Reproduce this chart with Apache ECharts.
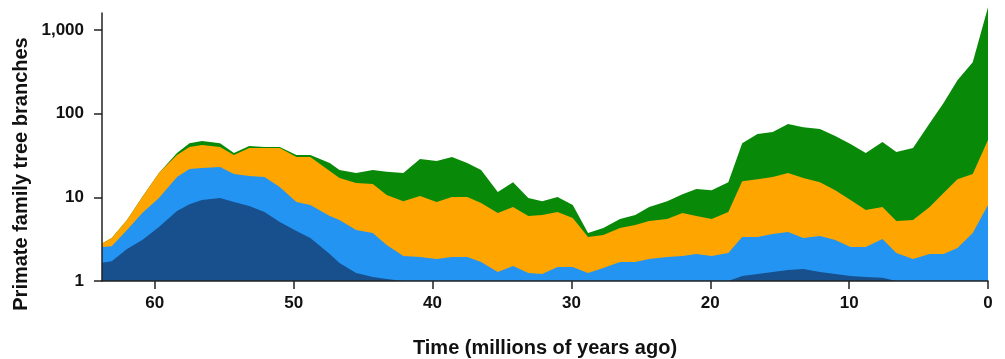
<!DOCTYPE html>
<html>
<head>
<meta charset="utf-8">
<script src="https://cdn.jsdelivr.net/npm/echarts@6/dist/echarts.min.js"></script>
<style>
html,body{margin:0;padding:0;background:#fff;}
#c{width:1005px;height:359px;}
</style>
</head>
<body>
<div id="c"></div>
<script>
// Time (millions of years ago)
const times = [63.8, 63.1, 62.0, 60.9, 59.7, 58.4, 57.5, 56.6, 55.3, 54.3, 53.2, 52.1, 51.0, 49.8, 48.8, 47.4, 46.7, 45.5, 44.3, 43.3, 42.1, 40.9, 39.7, 38.6, 37.5, 36.5, 35.3, 34.2, 33.1, 32.1, 31.0, 29.9, 28.8, 27.7, 26.5, 25.4, 24.4, 23.1, 22.0, 21.0, 19.9, 18.7, 17.7, 16.6, 15.5, 14.4, 13.3, 12.1, 11.0, 9.9, 8.8, 7.6, 6.6, 5.4, 4.2, 3.2, 2.2, 1.1, 0];

// Cumulative branch counts (top edge of each band)
const darkBlueTop = [1.65, 1.72, 2.41, 3.09, 4.42, 6.87, 8.3, 9.29, 9.81, 8.79, 7.9, 6.67, 5.07, 3.96, 3.26, 2.1, 1.64, 1.25, 1.12, 1.06,
  1, 1, 1, 1, 1, 1, 1, 1, 1, 1, 1, 1, 1, 1, 1, 1, 1, 1, 1, 1, 1, 1,
  1.15, 1.21, 1.28, 1.35, 1.39, 1.28, 1.21, 1.15, 1.12, 1.09,
  1, 1, 1, 1, 1, 1, 1];
const lightBlueTop = [2.55, 2.6, 4.07, 6.49, 9.81, 17.5, 21.8, 22.4, 23.0, 19.0, 18.0, 17.5, 13.3, 8.79, 8.09, 5.98, 5.36, 4.07, 3.74, 2.69,
  1.99, 1.93, 1.83, 1.93, 1.93, 1.69, 1.28, 1.51, 1.25, 1.21, 1.47, 1.47, 1.25, 1.43, 1.69, 1.69, 1.83, 1.93, 1.99, 2.10,
  1.99, 2.16, 3.35, 3.35, 3.64, 3.85, 3.26, 3.45, 3.09, 2.55, 2.55, 3.18, 2.16, 1.83, 2.10, 2.10, 2.48, 3.74, 8.09];
const orangeTop = [2.8, 3.26, 5.36, 10.1, 19.5, 32.0, 39.9, 42.2, 39.9, 32.0, 38.8, 38.8, 38.8, 30.3, 30.3, 20.6, 17.0, 14.8, 14.4, 10.7,
  9.0, 10.4, 8.79, 10.1, 10.1, 8.55, 6.49, 7.66, 5.98, 6.15, 6.67, 5.66, 3.35, 3.55, 4.3, 4.67, 5.2, 5.5, 6.49, 5.98,
  5.5, 6.67, 15.6, 16.5, 17.5, 19.5, 17.0, 15.2, 12.2, 9.29, 7.05, 7.66, 5.2, 5.36, 7.66, 11.3, 16.5, 19.0, 48.4];
const greenTop = [2.8, 3.26, 5.36, 10.1, 19.5, 33.8, 44.5, 47.1, 44.5, 33.8, 41.0, 39.9, 39.9, 32.0, 32.0, 25.7, 21.2, 19.5, 21.2, 20.3,
  19.5, 28.7, 27.2, 30.3, 25.7, 21.2, 11.6, 15.2, 9.81, 9.0, 10.1, 8.09, 3.74, 4.3, 5.5, 6.15, 7.66, 9.0, 10.9, 12.6,
  12.2, 15.2, 44.5, 57.1, 60.3, 75.1, 69, 65.5, 54, 43.3, 33.8, 45.8, 34.8, 38.8, 77, 134, 252, 413, 1878];

const xTicks = [0, 10, 20, 30, 40, 50, 60];
const yTicks = [1, 10, 100, 1000];
const yTickLabels = ['1', '10', '100', '1,000'];

const pairs = arr => times.map((t, i) => [t, arr[i]]);

function band(name, arr, color) {
  return {
    name: name, type: 'line', data: pairs(arr),
    showSymbol: false, symbol: 'none', clip: false,
    lineStyle: { width: 0 },
    areaStyle: { color: color, opacity: 1, origin: 'start' },
    silent: true, animation: false, z: 1
  };
}

const chart = echarts.init(document.getElementById('c'), null, { renderer: 'canvas' });
chart.setOption({
  backgroundColor: '#ffffff',
  animation: false,
  grid: { left: 102, right: 17, top: 13, bottom: 78, containLabel: false, outerBoundsMode: 'none' },
  xAxis: {
    type: 'value', inverse: true, min: 0, max: 63.8,
    name: 'Time (millions of years ago)', nameLocation: 'middle', nameGap: 57,
    nameTextStyle: { fontFamily: 'Liberation Sans', fontWeight: 'bold', fontSize: 20, color: '#111' },
    axisLine: { show: true, onZero: false, lineStyle: { color: '#222', width: 1.5 } },
    axisTick: { show: true, length: 8, lineStyle: { color: '#222', width: 1.5 }, customValues: xTicks },
    axisLabel: { customValues: xTicks, margin: 14, fontFamily: 'Liberation Sans', fontWeight: 'bold', fontSize: 17, color: '#111' },
    splitLine: { show: false },
    z: 5
  },
  yAxis: {
    type: 'log', logBase: 10, min: 1, max: 1600,
    axisLine: { show: true, onZero: false, lineStyle: { color: '#222', width: 1.5 } },
    axisTick: { show: true, length: 8, lineStyle: { color: '#222', width: 1.5 }, customValues: yTicks },
    axisLabel: {
      customValues: yTicks, margin: 18, fontFamily: 'Liberation Sans', fontWeight: 'bold', fontSize: 17, color: '#111',
      formatter: v => { const i = yTicks.indexOf(Math.round(v)); return i >= 0 ? yTickLabels[i] : ''; }
    },
    splitLine: { show: false },
    z: 5
  },
  graphic: [{
    type: 'text', x: 21, y: 174, rotation: Math.PI / 2,
    style: { text: 'Primate family tree branches', fontFamily: 'Liberation Sans', fontWeight: 'bold', fontSize: 20, fill: '#111', align: 'center', verticalAlign: 'middle' }
  }],
  series: [
    band('Green', greenTop, '#088a08'),
    band('Orange', orangeTop, '#ffa500'),
    band('Light blue', lightBlueTop, '#2394f2'),
    band('Dark blue', darkBlueTop, '#17508c')
  ]
});
</script>
</body>
</html>
